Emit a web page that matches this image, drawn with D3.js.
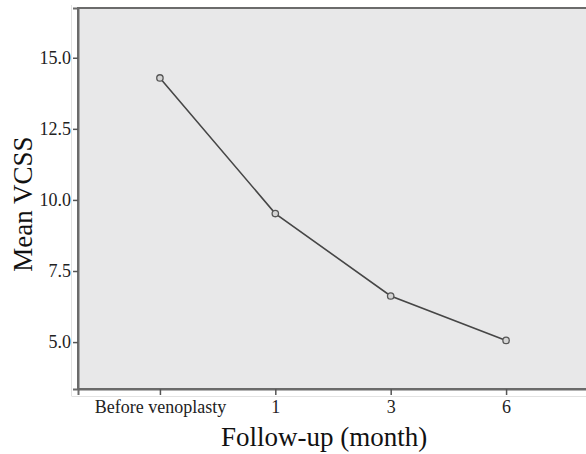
<!DOCTYPE html>
<html>
<head>
<meta charset="utf-8">
<script src="https://cdn.jsdelivr.net/npm/d3@7"></script>
<style>
  body { margin: 0; background: #fff; }
  svg { display: block; }
  svg text { font-family: "Liberation Serif", "DejaVu Serif", serif; }
</style>
</head>
<body>
<svg id="chart" width="586" height="454"></svg>
<script>
// Data
const categories = ["Before venoplasty", "1", "3", "6"];
const meanVcss = [14.29, 9.52, 6.62, 5.06];
const yTicks = [5.0, 7.5, 10.0, 12.5, 15.0];

const margin = { top: 8, right: -2, bottom: 65, left: 78 };
const width = 586 - margin.left - margin.right;
const height = 454 - margin.top - margin.bottom;

const svg = d3.select("#chart");
const g = svg.append("g").attr("transform", `translate(${margin.left},${margin.top})`);

const x = d3.scalePoint().domain(categories).range([0, width]).padding(0.71);
const y = d3.scaleLinear().domain([3.35, 16.75]).range([height, 0]);

// faint outer frame
svg.append("line")
    .attr("x1", 71.5).attr("x2", 71.5).attr("y1", 5).attr("y2", margin.top + height + 7)
    .attr("stroke", "#e2e2e2");
svg.append("line")
    .attr("x1", 71.5).attr("x2", 586).attr("y1", margin.top + height + 7.5).attr("y2", margin.top + height + 7.5)
    .attr("stroke", "#e2e2e2");

// plot background
g.append("rect")
    .attr("width", width).attr("height", height)
    .attr("fill", "#e8e8e9")
    .attr("stroke", "#6b6b6b").attr("stroke-width", 2);

const yAxis = d3.axisLeft(y).tickValues(yTicks).tickFormat(d3.format(".1f")).tickSize(5).tickPadding(2);
const xAxis = d3.axisBottom(x).tickSize(6).tickPadding(5);

const gy = g.append("g").call(yAxis);
const gx = g.append("g").attr("transform", `translate(0,${height})`).call(xAxis);

[gy, gx].forEach((a) => {
    a.attr("font-family", null);
    a.select(".domain").attr("stroke", "#6b6b6b").attr("stroke-width", 2);
    a.selectAll(".tick line").attr("stroke", "#555").attr("stroke-width", 1.5);
    a.selectAll(".tick text").attr("fill", "#222").style("font-size", "18px");
});

// line
const line = d3.line()
    .x((d, i) => x(categories[i]))
    .y((d) => y(d));

g.append("path")
    .datum(meanVcss)
    .attr("fill", "none")
    .attr("stroke", "#464646")
    .attr("stroke-width", 1.6)
    .attr("d", line);

g.selectAll(".pt")
    .data(meanVcss)
    .join("circle")
    .attr("class", "pt")
    .attr("cx", (d, i) => x(categories[i]))
    .attr("cy", (d) => y(d))
    .attr("r", 3.2)
    .attr("fill", "#d4d4d4")
    .attr("stroke", "#555")
    .attr("stroke-width", 1.3);

// titles
svg.append("text")
    .attr("x", 324).attr("y", 446)
    .attr("text-anchor", "middle")
    .style("font-size", "27px")
    .attr("fill", "#111")
    .text("Follow-up (month)");

svg.append("text")
    .attr("transform", "translate(32,204) rotate(-90)")
    .attr("text-anchor", "middle")
    .style("font-size", "27px")
    .attr("fill", "#111")
    .text("Mean VCSS");
</script>
</body>
</html>
